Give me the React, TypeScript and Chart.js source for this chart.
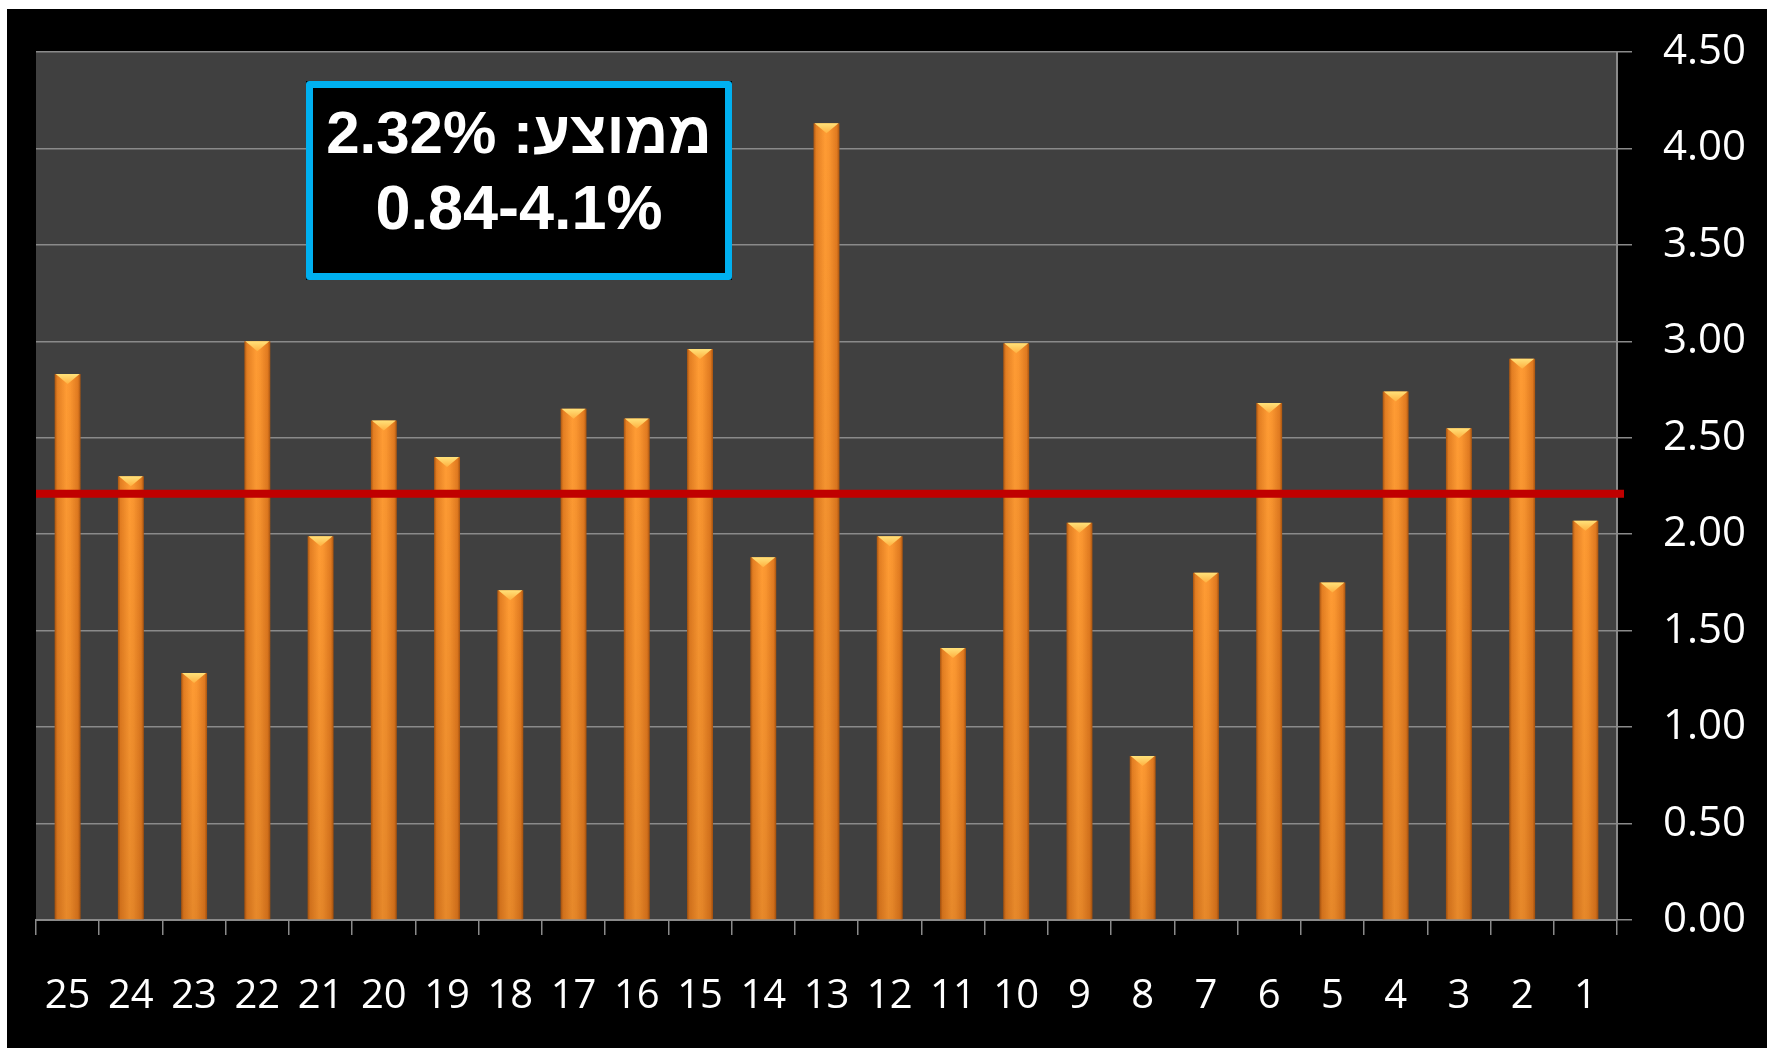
import React, { useEffect, useRef } from "react";
import { Chart, registerables } from "chart.js";

Chart.register(...registerables);

// ---- data ----
const categories = [
  "25", "24", "23", "22", "21", "20", "19", "18", "17", "16", "15", "14", "13",
  "12", "11", "10", "9", "8", "7", "6", "5", "4", "3", "2", "1",
];
const values = [
  2.83, 2.30, 1.28, 3.00, 1.99, 2.59, 2.40, 1.71, 2.65, 2.60, 2.96, 1.88, 4.13,
  1.99, 1.41, 2.99, 2.06, 0.85, 1.80, 2.68, 1.75, 2.74, 2.55, 2.91, 2.07,
];
const averageLineValue = 2.21;
const yMin = 0;
const yMax = 4.5;
const yStep = 0.5;
const boxLines = ["ממוצע: 2.32%", "0.84-4.1%"];

const BAR_FRACTION = 0.41;
const GRID = "#8a8a8a";

const backgroundPlugin = {
  id: "bgPlot",
  beforeDraw(chart: any) {
    const { ctx, chartArea: a } = chart;
    ctx.save();
    ctx.fillStyle = "#000000";
    ctx.fillRect(0, 0, chart.width, chart.height);
    ctx.fillStyle = "#404040";
    ctx.fillRect(a.left, a.top, a.right - a.left, a.bottom - a.top);
    ctx.restore();
  },
};

const bevelPlugin = {
  id: "barBevel",
  afterDatasetsDraw(chart: any) {
    const { ctx } = chart;
    const meta = chart.getDatasetMeta(0);
    ctx.save();
    meta.data.forEach((el: any) => {
      const w = el.width;
      const left = el.x - w / 2;
      const right = el.x + w / 2;
      const top = el.y;
      const base = el.base;
      const vg = ctx.createLinearGradient(0, top, 0, base);
      vg.addColorStop(0, "rgba(120,50,0,0)");
      vg.addColorStop(1, "rgba(120,50,0,0.18)");
      ctx.fillStyle = vg;
      ctx.fillRect(left, top, w, base - top);
      const tg = ctx.createLinearGradient(0, top, 0, top + 10);
      tg.addColorStop(0, "#FFE27A");
      tg.addColorStop(1, "#FFB040");
      ctx.fillStyle = tg;
      ctx.beginPath();
      ctx.moveTo(left + 1, top);
      ctx.lineTo(right - 1, top);
      ctx.lineTo(el.x, top + 10);
      ctx.closePath();
      ctx.fill();
    });
    ctx.restore();
  },
};

const averageLinePlugin = {
  id: "avgLine",
  afterDatasetsDraw(chart: any) {
    const { ctx, chartArea: a, scales } = chart;
    const y = scales.y.getPixelForValue(averageLineValue);
    ctx.save();
    ctx.strokeStyle = "#C00000";
    ctx.lineWidth = 8;
    ctx.beginPath();
    ctx.moveTo(a.left, y);
    ctx.lineTo(a.right + 7, y);
    ctx.stroke();
    ctx.restore();
  },
};

const boxPlugin = {
  id: "infoBox",
  afterDraw(chart: any) {
    const { ctx } = chart;
    const left = 299;
    const top = 72;
    const right = 725;
    const bottom = 271;
    const bw = 7;
    ctx.save();
    ctx.fillStyle = "#000000";
    ctx.fillRect(left, top, right - left, bottom - top);
    ctx.strokeStyle = "#00B0F0";
    ctx.lineWidth = bw;
    ctx.lineJoin = "round";
    ctx.strokeRect(left + bw / 2, top + bw / 2, right - left - bw, bottom - top - bw);
    const cx = (left + right) / 2;
    ctx.fillStyle = "#FFFFFF";
    ctx.textAlign = "center";
    ctx.textBaseline = "middle";
    ctx.font = 'bold 60px "Liberation Sans", Arial, "DejaVu Sans", sans-serif';
    (ctx as any).direction = "rtl";
    ctx.fillText(boxLines[0], cx, 127);
    (ctx as any).direction = "ltr";
    ctx.font = 'bold 63px "Liberation Sans", Arial, "DejaVu Sans", sans-serif';
    ctx.fillText(boxLines[1], cx, 203);
    ctx.restore();
  },
};

export default function App() {
  const canvasRef = useRef<HTMLCanvasElement | null>(null);

  useEffect(() => {
    if (!canvasRef.current) return;
    const barColor = (c: any) => {
      const chart = c.chart;
      const xs = chart.scales && chart.scales.x;
      if (!xs || c.dataIndex === undefined || !isFinite(xs.width) || xs.width <= 0) {
        return "#F7922E";
      }
      const cx = xs.getPixelForValue(c.dataIndex);
      const half = ((xs.width / categories.length) * BAR_FRACTION) / 2;
      const g = chart.ctx.createLinearGradient(cx - half, 0, cx + half, 0);
      g.addColorStop(0, "#A85410");
      g.addColorStop(0.1, "#E37E22");
      g.addColorStop(0.45, "#FF9C34");
      g.addColorStop(0.6, "#FA9630");
      g.addColorStop(0.9, "#E07A20");
      g.addColorStop(1, "#A85410");
      return g;
    };

    const chart = new Chart(canvasRef.current, {
      type: "bar",
      data: {
        labels: categories,
        datasets: [
          {
            data: values,
            backgroundColor: barColor,
            borderWidth: 0,
            categoryPercentage: 1,
            barPercentage: BAR_FRACTION,
          },
        ],
      },
      options: {
        animation: false,
        responsive: true,
        maintainAspectRatio: false,
        layout: { padding: { left: 29, top: 43, right: 0, bottom: 0 } },
        plugins: {
          legend: { display: false },
          tooltip: { enabled: false },
        },
        scales: {
          x: {
            offset: true,
            grid: {
              offset: true,
              drawOnChartArea: false,
              drawTicks: true,
              tickLength: 15,
              color: GRID,
              lineWidth: 1.5,
            },
            border: { display: true, color: GRID, width: 2 },
            ticks: {
              color: "#FFFFFF",
              font: { family: '"Open Sans", sans-serif', size: 40 },
              padding: 38,
              maxRotation: 0,
              minRotation: 0,
              autoSkip: false,
            },
            afterFit: (s: any) => {
              s.height = 128;
              s.paddingLeft = 0;
              s.paddingRight = 0;
            },
          },
          y: {
            position: "right",
            min: yMin,
            max: yMax,
            grid: {
              color: GRID,
              lineWidth: 1.5,
              tickLength: 15,
              drawTicks: true,
            },
            border: { display: true, color: GRID, width: 2 },
            ticks: {
              stepSize: yStep,
              color: "#FFFFFF",
              font: { family: '"Open Sans", sans-serif', size: 42 },
              padding: 31,
              callback: (v: any) => Number(v).toFixed(2),
            },
            afterFit: (s: any) => {
              s.width = 150;
              s.paddingTop = 0;
              s.paddingBottom = 0;
            },
          },
        },
      },
      plugins: [backgroundPlugin, bevelPlugin, averageLinePlugin, boxPlugin],
    });
    return () => chart.destroy();
  }, []);

  return (
    <div
      style={{
        position: "fixed",
        left: 7,
        top: 9,
        width: 1760,
        height: 1039,
        background: "#000000",
      }}
    >
      <canvas ref={canvasRef} />
    </div>
  );
}
